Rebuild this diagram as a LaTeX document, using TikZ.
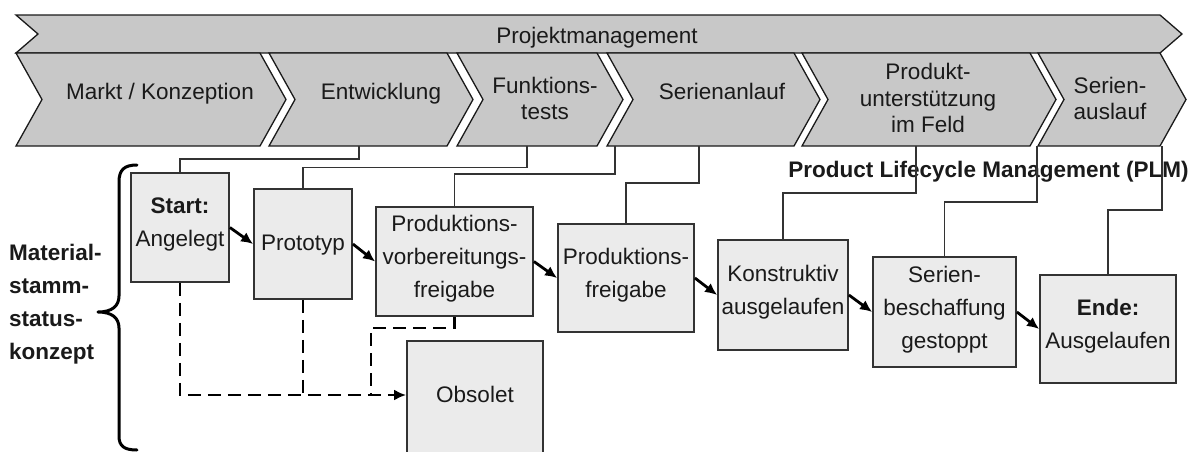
\documentclass[tikz,border=0pt]{standalone}
\usepackage{fontspec}
\setmainfont{Liberation Sans}
\usetikzlibrary{arrows.meta}

\definecolor{ink}{HTML}{1A1A1A}
\definecolor{phasefill}{HTML}{C8C8C8}
\definecolor{statefill}{HTML}{EBEBEB}
\definecolor{edgegray}{HTML}{333333}

\newcommand\phasefont{\fontsize{22.5}{26.5}\selectfont}
\newcommand\statefont{\fontsize{22.5}{33}\selectfont}

\tikzset{
  struts/.style={execute at begin node=\strut, execute at end node=\strut},
  phasebox/.style={fill=phasefill, draw=ink, line width=1.3pt, line join=miter},
  phaselabel/.style={inner sep=0pt, align=center, text=ink, font=\phasefont, struts},
  statebox/.style={draw=edgegray, fill=statefill, line width=1.8pt, inner sep=0pt,
    align=center, text=ink, font=\statefont, struts},
  tip/.style={-{Latex[length=12pt,width=11pt]}},
  flow/.style={draw=black, line width=2.8pt, tip},
  obsolete/.style={draw=black, line width=2.8pt, dash pattern=on 13pt off 7pt},
  link/.style={draw=edgegray, line width=1.1pt},
  bracket/.style={draw=black, line width=3pt, line cap=round, line join=round}
}

\begin{document}
\begin{tikzpicture}[x=1pt,y=-1pt]
\useasboundingbox (0,0) rectangle (1195,451);

% overall project management band
\draw[phasebox] (16,15) -- (1160,15) -- (1182,34) -- (1160,53) -- (16,53) -- (38,34) -- cycle;
\node[phaselabel] (pm) at (597,37.7) {Projektmanagement};

% lifecycle phases
\foreach \l/\r in {16/260, 269/447, 457/597, 607/794, 802/1030, 1038/1160}
  \draw[phasebox] (\l,53) -- (\r,53) -- (\r+26,99.5) -- (\r,146) -- (\l,146) -- (\l+26,99.5) -- cycle;

\node[phaselabel] (ph1) at (160,93.7) {Markt / Konzeption};
\node[phaselabel] (ph2) at (381,93.7) {Entwicklung};
\node[phaselabel] (ph3) at (545,102.2) {Funktions-\\tests};
\node[phaselabel] (ph4) at (722,93.7) {Serienanlauf};
\node[phaselabel] (ph5) at (928,102.2) {Produkt-\\unterstützung\\im Feld};
\node[phaselabel] (ph6) at (1110,102.2) {Serien-\\auslauf};

% attachment points on the phase bottoms
\coordinate (a1) at (359,146);
\coordinate (a2) at (527,146);
\coordinate (a3) at (615,146);
\coordinate (a4) at (699,146);
\coordinate (a5) at (916,146);
\coordinate (a6) at (1037,146);
\coordinate (a7) at (1162,146);

\node[phaselabel, font=\phasefont\bfseries] (plm) at (988.5,171.7) {Product Lifecycle Management (PLM)};

% material master status concept
\node[inner sep=0pt, anchor=west, align=left, text=ink, font=\statefont\bfseries, struts]
  (concept) at (9,306.4) {Material-\\stamm-\\status-\\konzept};
\draw[bracket] (137,165) .. controls (124,165) and (119,170) .. (119,182) -- (119,296)
  .. controls (119,306) and (112,312) .. (98,312)
  .. controls (112,312) and (119,318) .. (119,328) -- (119,436)
  .. controls (119,446) and (124,450) .. (137,450);

% status boxes
\node[statebox, minimum width=98pt, minimum height=109pt] (start) at (180,227.5) {{\bfseries Start:}\\Angelegt};
\node[statebox, minimum width=98pt, minimum height=110pt] (proto) at (303,244) {Prototyp};
\node[statebox, minimum width=157pt, minimum height=109pt] (pvf) at (454.5,261.5) {Produktions-\\vorbereitungs-\\freigabe};
\node[statebox, minimum width=136pt, minimum height=108pt] (pf) at (626,278) {Produktions-\\freigabe};
\node[statebox, minimum width=130pt, minimum height=110pt] (konst) at (783,295) {Konstruktiv\\ausgelaufen};
\node[statebox, minimum width=143pt, minimum height=110pt] (serb) at (944.5,312) {Serien-\\beschaffung\\gestoppt};
\node[statebox, minimum width=136pt, minimum height=108pt] (ende) at (1108,329) {{\bfseries Ende:}\\Ausgelaufen};
\node[statebox, minimum width=136pt, minimum height=116pt] (obs) at (475,399) {\raisebox{3pt}{Obsolet}};

% phase-to-status links
\draw[link] (a1) -- ++(0,13) -| (start.north);
\draw[link] (a2) -- ++(0,21.5) -| (proto.north);
\draw[link] (a3) -- ++(0,28) -| (pvf.north);
\draw[link] (a4) -- ++(0,37) -| (pf.north);
\draw[link] (a5) -- ++(0,47) -| (konst.north);
\draw[link] (a6) -- ++(0,56) -| (serb.north);
\draw[link] (a7) -- ++(0,64) -| (ende.north);

% regular status sequence
\draw[flow] (start.east) -- (proto.west);
\draw[flow] (proto.east) -- (pvf.west);
\draw[flow] (pvf.east) -- (pf.west);
\draw[flow] (pf.east) -- (konst.west);
\draw[flow] (konst.east) -- (serb.west);
\draw[flow] (serb.east) -- (ende.west);

% transitions to obsolete
\coordinate (lvl) at (0,395);
\coordinate (pvfbend) at (371,328);
\coordinate (obsin) at (obs.west |- lvl);
\draw[obsolete] (proto.south) -- (proto.south |- lvl);
\draw[obsolete] (pvf.south) |- (pvfbend) -- (pvfbend |- lvl);
\draw[obsolete, tip] (start.south) |- (obsin);
\end{tikzpicture}
\end{document}
